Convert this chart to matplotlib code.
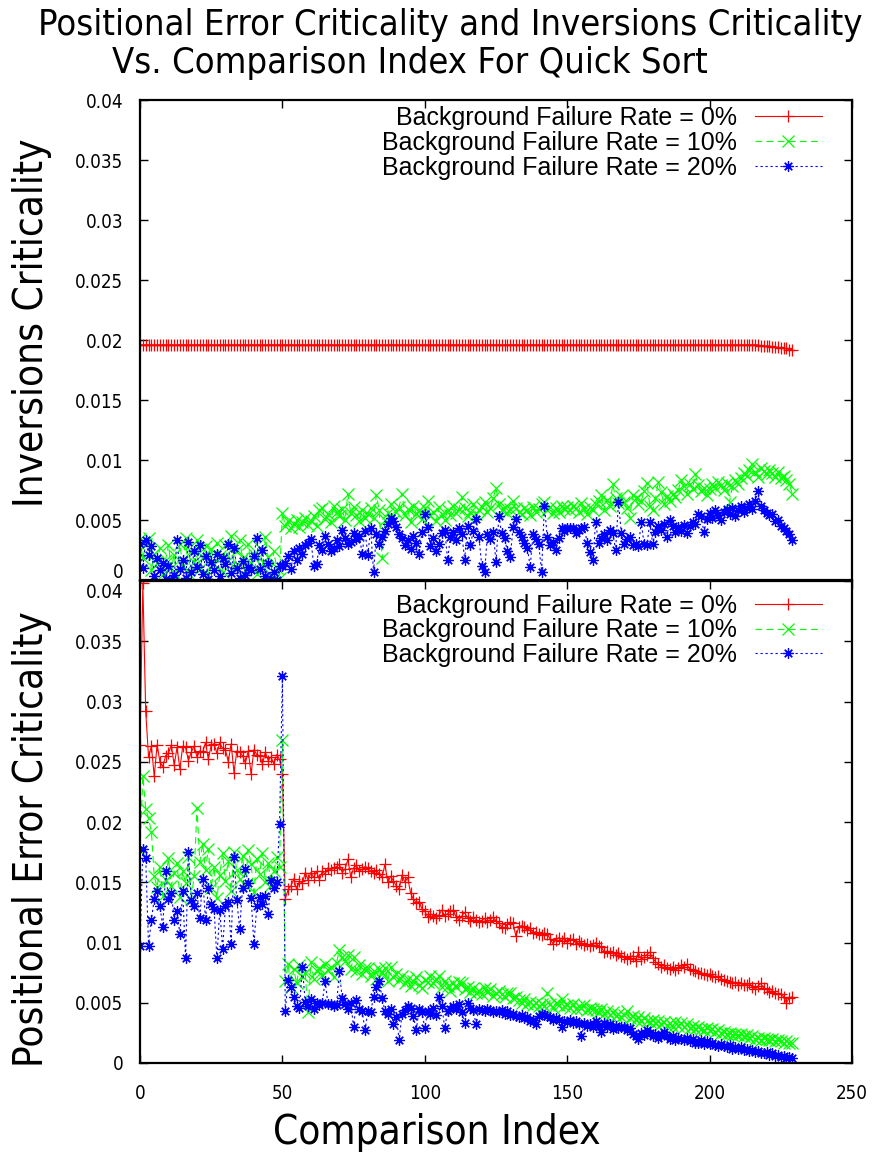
import matplotlib
matplotlib.use("Agg")
import matplotlib.pyplot as plt
import matplotlib.transforms as mtransforms
import numpy as np

comparison_index = np.arange(230)

# inversions criticality, background failure rate 0 / 10 / 20 %
inv_0 = [
    0.0196, 0.0196, 0.0196, 0.0196, 0.0196, 0.0196, 0.0196, 0.0196, 0.0196, 0.0196,
    0.0196, 0.0196, 0.0196, 0.0196, 0.0196, 0.0196, 0.0196, 0.0196, 0.0196, 0.0196,
    0.0196, 0.0196, 0.0196, 0.0196, 0.0196, 0.0196, 0.0196, 0.0196, 0.0196, 0.0196,
    0.0196, 0.0196, 0.0196, 0.0196, 0.0196, 0.0196, 0.0196, 0.0196, 0.0196, 0.0196,
    0.0196, 0.0196, 0.0196, 0.0196, 0.0196, 0.0196, 0.0196, 0.0196, 0.0196, 0.0196,
    0.0196, 0.0196, 0.0196, 0.0196, 0.0196, 0.0196, 0.0196, 0.0196, 0.0196, 0.0196,
    0.0196, 0.0196, 0.0196, 0.0196, 0.0196, 0.0196, 0.0196, 0.0196, 0.0196, 0.0196,
    0.0196, 0.0196, 0.0196, 0.0196, 0.0196, 0.0196, 0.0196, 0.0196, 0.0196, 0.0196,
    0.0196, 0.0196, 0.0196, 0.0196, 0.0196, 0.0196, 0.0196, 0.0196, 0.0196, 0.0196,
    0.0196, 0.0196, 0.0196, 0.0196, 0.0196, 0.0196, 0.0196, 0.0196, 0.0196, 0.0196,
    0.0196, 0.0196, 0.0196, 0.0196, 0.0196, 0.0196, 0.0196, 0.0196, 0.0196, 0.0196,
    0.0196, 0.0196, 0.0196, 0.0196, 0.0196, 0.0196, 0.0196, 0.0196, 0.0196, 0.0196,
    0.0196, 0.0196, 0.0196, 0.0196, 0.0196, 0.0196, 0.0196, 0.0196, 0.0196, 0.0196,
    0.0196, 0.0196, 0.0196, 0.0196, 0.0196, 0.0196, 0.0196, 0.0196, 0.0196, 0.0196,
    0.0196, 0.0196, 0.0196, 0.0196, 0.0196, 0.0196, 0.0196, 0.0196, 0.0196, 0.0196,
    0.0196, 0.0196, 0.0196, 0.0196, 0.0196, 0.0196, 0.0196, 0.0196, 0.0196, 0.0196,
    0.0196, 0.0196, 0.0196, 0.0196, 0.0196, 0.0196, 0.0196, 0.0196, 0.0196, 0.0196,
    0.0196, 0.0196, 0.0196, 0.0196, 0.0196, 0.0196, 0.0196, 0.0196, 0.0196, 0.0196,
    0.0196, 0.0196, 0.0196, 0.0196, 0.0196, 0.0196, 0.0196, 0.0196, 0.0196, 0.0196,
    0.0196, 0.0196, 0.0196, 0.0196, 0.0196, 0.0196, 0.0196, 0.0196, 0.0196, 0.0196,
    0.0196, 0.0196, 0.0196, 0.0196, 0.0196, 0.0196, 0.0196, 0.0196, 0.0196, 0.0196,
    0.0196, 0.0196, 0.0196, 0.0196, 0.0196, 0.0196, 0.0196, 0.0196, 0.0195, 0.0195,
    0.0195, 0.0195, 0.0194, 0.0194, 0.0194, 0.0193, 0.0193, 0.0193, 0.0192, 0.0192,
]
inv_10 = [
    0.0034, 0.0018, 0.0030, 0.0035, 0.0008, 0.0022, 0.0014, 0.0027, 0.0005, 0.0017,
    0.0029, 0.0010, 0.0021, 0.0003, 0.0030, 0.0012, 0.0035, 0.0006, 0.0024, 0.0015,
    0.0033, 0.0009, 0.0019, 0.0028, 0.0004, 0.0026, 0.0013, 0.0031, 0.0020, 0.0007,
    0.0029, 0.0016, 0.0037, 0.0011, 0.0025, 0.0033, 0.0018, 0.0008, 0.0030, 0.0014,
    0.0022, 0.0005, 0.0027, 0.0012, 0.0036, 0.0019, 0.0003, 0.0024, 0.0010, 0.0002,
    0.0056, 0.0045, 0.0049, 0.0043, 0.0047, 0.0050, 0.0044, 0.0048, 0.0052, 0.0046,
    0.0049, 0.0053, 0.0045, 0.0058, 0.0060, 0.0051, 0.0055, 0.0048, 0.0062, 0.0057,
    0.0053, 0.0059, 0.0050, 0.0072, 0.0056, 0.0061, 0.0054, 0.0049, 0.0058, 0.0052,
    0.0055, 0.0060, 0.0052, 0.0071, 0.0058, 0.0018, 0.0050, 0.0056, 0.0063, 0.0049,
    0.0057, 0.0061, 0.0072, 0.0054, 0.0059, 0.0048, 0.0062, 0.0055, 0.0058, 0.0051,
    0.0060, 0.0066, 0.0053, 0.0057, 0.0049, 0.0061, 0.0055, 0.0050, 0.0058, 0.0054,
    0.0062, 0.0056, 0.0059, 0.0069, 0.0060, 0.0053, 0.0057, 0.0063, 0.0055, 0.0058,
    0.0061, 0.0065, 0.0057, 0.0060, 0.0068, 0.0077, 0.0063, 0.0058, 0.0061, 0.0056,
    0.0059, 0.0066, 0.0060, 0.0057, 0.0055, 0.0060, 0.0058, 0.0054, 0.0061, 0.0057,
    0.0059, 0.0063, 0.0065, 0.0058, 0.0061, 0.0056, 0.0060, 0.0057, 0.0062, 0.0059,
    0.0061, 0.0058, 0.0062, 0.0060, 0.0057, 0.0064, 0.0059, 0.0055, 0.0061, 0.0058,
    0.0063, 0.0066, 0.0071, 0.0058, 0.0067, 0.0062, 0.0080, 0.0068, 0.0064, 0.0070,
    0.0065, 0.0060, 0.0052, 0.0071, 0.0068, 0.0063, 0.0066, 0.0074, 0.0081, 0.0062,
    0.0058, 0.0068, 0.0082, 0.0073, 0.0063, 0.0070, 0.0066, 0.0072, 0.0069, 0.0075,
    0.0083, 0.0078, 0.0072, 0.0080, 0.0076, 0.0088, 0.0079, 0.0074, 0.0077, 0.0071,
    0.0076, 0.0080, 0.0077, 0.0082, 0.0079, 0.0075, 0.0081, 0.0065, 0.0078, 0.0083,
    0.0080, 0.0085, 0.0089, 0.0087, 0.0092, 0.0097, 0.0090, 0.0086, 0.0093, 0.0091,
    0.0088, 0.0092, 0.0089, 0.0086, 0.0090, 0.0085, 0.0087, 0.0083, 0.0080, 0.0072,
]
inv_20 = [
    0.0030, 0.0010, 0.0033, 0.0021, 0.0028, 0.0003, 0.0018, 0.0008, 0.0014, 0.0001,
    0.0012, 0.0000, 0.0004, 0.0033, 0.0009, 0.0017, 0.0002, 0.0032, 0.0007, 0.0024,
    0.0011, 0.0029, 0.0005, 0.0020, 0.0001, 0.0015, 0.0008, 0.0022, 0.0003, 0.0018,
    0.0013, 0.0030, 0.0006, 0.0027, 0.0010, 0.0002, 0.0016, 0.0004, 0.0011, 0.0008,
    0.0020, 0.0035, 0.0009, 0.0025, 0.0003, 0.0014, 0.0001, 0.0007, 0.0000, 0.0012,
    0.0012, 0.0014, 0.0020, 0.0009, 0.0024, 0.0017, 0.0027, 0.0022, 0.0029, 0.0031,
    0.0034, 0.0012, 0.0013, 0.0029, 0.0025, 0.0037, 0.0030, 0.0024, 0.0027, 0.0033,
    0.0028, 0.0042, 0.0035, 0.0030, 0.0032, 0.0039, 0.0034, 0.0037, 0.0022, 0.0041,
    0.0021, 0.0043, 0.0007, 0.0038, 0.0030, 0.0036, 0.0041, 0.0047, 0.0052, 0.0049,
    0.0044, 0.0038, 0.0035, 0.0029, 0.0033, 0.0026, 0.0037, 0.0031, 0.0022, 0.0040,
    0.0055, 0.0044, 0.0028, 0.0035, 0.0024, 0.0030, 0.0039, 0.0042, 0.0017, 0.0036,
    0.0040, 0.0033, 0.0043, 0.0038, 0.0017, 0.0045, 0.0029, 0.0041, 0.0051, 0.0036,
    0.0012, 0.0007, 0.0038, 0.0034, 0.0040, 0.0015, 0.0053, 0.0039, 0.0035, 0.0024,
    0.0019, 0.0044, 0.0051, 0.0040, 0.0036, 0.0031, 0.0027, 0.0011, 0.0038, 0.0034,
    0.0030, 0.0007, 0.0062, 0.0036, 0.0029, 0.0032, 0.0025, 0.0035, 0.0043, 0.0041,
    0.0043, 0.0043, 0.0043, 0.0039, 0.0042, 0.0043, 0.0044, 0.0031, 0.0023, 0.0017,
    0.0048, 0.0031, 0.0035, 0.0038, 0.0033, 0.0042, 0.0039, 0.0025, 0.0065, 0.0039,
    0.0030, 0.0034, 0.0036, 0.0029, 0.0030, 0.0028, 0.0048, 0.0030, 0.0029, 0.0048,
    0.0030, 0.0040, 0.0045, 0.0042, 0.0047, 0.0036, 0.0050, 0.0045, 0.0040, 0.0044,
    0.0041, 0.0046, 0.0039, 0.0045, 0.0048, 0.0047, 0.0055, 0.0053, 0.0040, 0.0051,
    0.0056, 0.0052, 0.0058, 0.0054, 0.0050, 0.0057, 0.0059, 0.0055, 0.0060, 0.0053,
    0.0058, 0.0062, 0.0057, 0.0060, 0.0063, 0.0059, 0.0066, 0.0074, 0.0062, 0.0058,
    0.0056, 0.0054, 0.0055, 0.0049, 0.0050, 0.0045, 0.0043, 0.0041, 0.0038, 0.0033,
]

# positional error criticality, background failure rate 0 / 10 / 20 %
pos_0 = [
    0.0264, 0.0398, 0.0292, 0.0254, 0.0263, 0.0238, 0.0264, 0.0250, 0.0246, 0.0255,
    0.0257, 0.0264, 0.0247, 0.0262, 0.0244, 0.0263, 0.0262, 0.0251, 0.0258, 0.0263,
    0.0254, 0.0259, 0.0258, 0.0266, 0.0252, 0.0264, 0.0265, 0.0257, 0.0266, 0.0261,
    0.0260, 0.0250, 0.0265, 0.0241, 0.0259, 0.0258, 0.0255, 0.0249, 0.0259, 0.0240,
    0.0260, 0.0256, 0.0255, 0.0248, 0.0258, 0.0251, 0.0254, 0.0248, 0.0256, 0.0252,
    0.0240, 0.0136, 0.0144, 0.0147, 0.0153, 0.0144, 0.0151, 0.0149, 0.0158, 0.0152,
    0.0158, 0.0154, 0.0159, 0.0152, 0.0159, 0.0157, 0.0162, 0.0160, 0.0162, 0.0163,
    0.0165, 0.0158, 0.0161, 0.0169, 0.0154, 0.0162, 0.0164, 0.0159, 0.0161, 0.0163,
    0.0162, 0.0159, 0.0158, 0.0160, 0.0157, 0.0154, 0.0165, 0.0150, 0.0155, 0.0151,
    0.0147, 0.0144, 0.0156, 0.0150, 0.0154, 0.0141, 0.0136, 0.0133, 0.0134, 0.0128,
    0.0126, 0.0121, 0.0124, 0.0122, 0.0120, 0.0123, 0.0127, 0.0122, 0.0124, 0.0126,
    0.0127, 0.0121, 0.0119, 0.0122, 0.0125, 0.0120, 0.0118, 0.0121, 0.0119, 0.0117,
    0.0118, 0.0120, 0.0117, 0.0119, 0.0121, 0.0118, 0.0116, 0.0113, 0.0112, 0.0115,
    0.0117, 0.0116, 0.0105, 0.0113, 0.0114, 0.0113, 0.0110, 0.0112, 0.0108, 0.0109,
    0.0107, 0.0106, 0.0108, 0.0107, 0.0103, 0.0099, 0.0102, 0.0104, 0.0101, 0.0104,
    0.0100, 0.0102, 0.0103, 0.0099, 0.0101, 0.0100, 0.0098, 0.0099, 0.0097, 0.0098,
    0.0100, 0.0097, 0.0096, 0.0092, 0.0093, 0.0091, 0.0092, 0.0090, 0.0091, 0.0089,
    0.0088, 0.0086, 0.0087, 0.0089, 0.0085, 0.0092, 0.0086, 0.0088, 0.0090, 0.0092,
    0.0087, 0.0084, 0.0082, 0.0080, 0.0081, 0.0079, 0.0078, 0.0080, 0.0077, 0.0079,
    0.0081, 0.0080, 0.0082, 0.0078, 0.0077, 0.0076, 0.0075, 0.0075, 0.0074, 0.0073,
    0.0074, 0.0072, 0.0071, 0.0072, 0.0070, 0.0069, 0.0068, 0.0067, 0.0066, 0.0067,
    0.0065, 0.0066, 0.0065, 0.0065, 0.0066, 0.0063, 0.0061, 0.0064, 0.0066, 0.0062,
    0.0061, 0.0059, 0.0060, 0.0058, 0.0057, 0.0057, 0.0055, 0.0050, 0.0054, 0.0055,
]
pos_10 = [
    0.0176, 0.0238, 0.0211, 0.0203, 0.0192, 0.0155, 0.0146, 0.0163, 0.0139, 0.0152,
    0.0170, 0.0147, 0.0158, 0.0166, 0.0138, 0.0159, 0.0149, 0.0171, 0.0136, 0.0155,
    0.0212, 0.0167, 0.0182, 0.0160, 0.0178, 0.0145, 0.0163, 0.0137, 0.0156, 0.0174,
    0.0151, 0.0168, 0.0143, 0.0175, 0.0160, 0.0153, 0.0172, 0.0148, 0.0177, 0.0165,
    0.0142, 0.0169, 0.0157, 0.0174, 0.0150, 0.0166, 0.0148, 0.0159, 0.0171, 0.0163,
    0.0268, 0.0068, 0.0082, 0.0063, 0.0078, 0.0066, 0.0081, 0.0072, 0.0075, 0.0042,
    0.0084, 0.0070, 0.0076, 0.0079, 0.0073, 0.0082, 0.0077, 0.0080, 0.0071, 0.0083,
    0.0094, 0.0088, 0.0085, 0.0090, 0.0078, 0.0088, 0.0076, 0.0081, 0.0074, 0.0079,
    0.0079, 0.0072, 0.0076, 0.0070, 0.0078, 0.0075, 0.0079, 0.0068, 0.0080, 0.0071,
    0.0074, 0.0069, 0.0072, 0.0066, 0.0070, 0.0064, 0.0068, 0.0071, 0.0065, 0.0062,
    0.0069, 0.0067, 0.0072, 0.0066, 0.0070, 0.0072, 0.0063, 0.0068, 0.0064, 0.0060,
    0.0066, 0.0063, 0.0067, 0.0066, 0.0061, 0.0063, 0.0059, 0.0062, 0.0058, 0.0060,
    0.0057, 0.0062, 0.0059, 0.0061, 0.0056, 0.0058, 0.0060, 0.0057, 0.0055, 0.0058,
    0.0058, 0.0054, 0.0055, 0.0052, 0.0050, 0.0053, 0.0049, 0.0051, 0.0048, 0.0050,
    0.0047, 0.0049, 0.0047, 0.0058, 0.0049, 0.0046, 0.0050, 0.0048, 0.0053, 0.0047,
    0.0048, 0.0046, 0.0049, 0.0045, 0.0047, 0.0046, 0.0048, 0.0044, 0.0046, 0.0045,
    0.0044, 0.0042, 0.0045, 0.0041, 0.0043, 0.0040, 0.0042, 0.0039, 0.0041, 0.0038,
    0.0040, 0.0043, 0.0037, 0.0039, 0.0036, 0.0038, 0.0035, 0.0037, 0.0035, 0.0034,
    0.0036, 0.0033, 0.0035, 0.0032, 0.0034, 0.0031, 0.0033, 0.0030, 0.0034, 0.0031,
    0.0033, 0.0030, 0.0032, 0.0029, 0.0031, 0.0028, 0.0030, 0.0028, 0.0027, 0.0029,
    0.0027, 0.0028, 0.0026, 0.0027, 0.0025, 0.0026, 0.0024, 0.0025, 0.0023, 0.0024,
    0.0023, 0.0024, 0.0022, 0.0023, 0.0021, 0.0022, 0.0020, 0.0021, 0.0019, 0.0021,
    0.0020, 0.0019, 0.0020, 0.0018, 0.0019, 0.0018, 0.0017, 0.0018, 0.0017, 0.0017,
]
pos_20 = [
    0.0097, 0.0178, 0.0170, 0.0097, 0.0119, 0.0136, 0.0143, 0.0130, 0.0113, 0.0159,
    0.0136, 0.0141, 0.0119, 0.0126, 0.0107, 0.0143, 0.0087, 0.0175, 0.0135, 0.0130,
    0.0141, 0.0120, 0.0153, 0.0119, 0.0145, 0.0132, 0.0128, 0.0087, 0.0127, 0.0095,
    0.0130, 0.0134, 0.0099, 0.0171, 0.0135, 0.0111, 0.0145, 0.0161, 0.0149, 0.0137,
    0.0099, 0.0130, 0.0138, 0.0132, 0.0139, 0.0124, 0.0152, 0.0145, 0.0150, 0.0198,
    0.0321, 0.0043, 0.0069, 0.0063, 0.0055, 0.0047, 0.0046, 0.0080, 0.0051, 0.0047,
    0.0053, 0.0045, 0.0050, 0.0048, 0.0050, 0.0068, 0.0049, 0.0049, 0.0047, 0.0048,
    0.0076, 0.0054, 0.0049, 0.0045, 0.0050, 0.0030, 0.0052, 0.0045, 0.0043, 0.0027,
    0.0043, 0.0042, 0.0055, 0.0063, 0.0068, 0.0054, 0.0043, 0.0041, 0.0045, 0.0032,
    0.0038, 0.0019, 0.0041, 0.0044, 0.0047, 0.0046, 0.0039, 0.0027, 0.0045, 0.0042,
    0.0029, 0.0043, 0.0041, 0.0046, 0.0040, 0.0055, 0.0047, 0.0029, 0.0043, 0.0045,
    0.0047, 0.0045, 0.0049, 0.0042, 0.0033, 0.0050, 0.0046, 0.0044, 0.0032, 0.0045,
    0.0044, 0.0043, 0.0045, 0.0044, 0.0042, 0.0043, 0.0042, 0.0044, 0.0041, 0.0043,
    0.0040, 0.0041, 0.0039, 0.0038, 0.0040, 0.0037, 0.0038, 0.0035, 0.0036, 0.0032,
    0.0039, 0.0041, 0.0040, 0.0039, 0.0038, 0.0036, 0.0037, 0.0036, 0.0030, 0.0035,
    0.0034, 0.0036, 0.0033, 0.0035, 0.0032, 0.0022, 0.0033, 0.0031, 0.0032, 0.0030,
    0.0035, 0.0031, 0.0026, 0.0033, 0.0030, 0.0032, 0.0028, 0.0031, 0.0029, 0.0030,
    0.0030, 0.0027, 0.0029, 0.0024, 0.0022, 0.0020, 0.0025, 0.0023, 0.0027, 0.0025,
    0.0022, 0.0024, 0.0021, 0.0023, 0.0026, 0.0022, 0.0020, 0.0022, 0.0019, 0.0021,
    0.0020, 0.0019, 0.0021, 0.0018, 0.0020, 0.0017, 0.0017, 0.0019, 0.0016, 0.0018,
    0.0016, 0.0017, 0.0015, 0.0014, 0.0016, 0.0014, 0.0013, 0.0015, 0.0012, 0.0013,
    0.0012, 0.0013, 0.0011, 0.0012, 0.0010, 0.0011, 0.0009, 0.0010, 0.0008, 0.0008,
    0.0009, 0.0007, 0.0008, 0.0006, 0.0007, 0.0005, 0.0006, 0.0004, 0.0005, 0.0004,
]

series_labels = ["Background Failure Rate = 0%",
                 "Background Failure Rate = 10%",
                 "Background Failure Rate = 20%"]
y_ticks = [0, 0.005, 0.01, 0.015, 0.02, 0.025, 0.03, 0.035, 0.04]
y_tick_labels = ["0", "0.005", "0.01", "0.015", "0.02", "0.025", "0.03", "0.035", "0.04"]
x_ticks = [0, 50, 100, 150, 200, 250]

plt.rcParams["font.family"] = ["DejaVu Sans"]
plt.rcParams["font.stretch"] = "condensed"

# gnuplot-like line types: solid +, dashed x, dotted asterisk
colors = ["#ff0000", "#00ff00", "#0000ff"]
linestyles = ["-", (0, (6, 4)), (0, (2, 2.5))]
markers = ["+", "x", (8, 2, 0)]
msizes = [9, 8, 7.5]
tick_font = {"family": "DejaVu Sans", "stretch": "condensed", "size": 13.5}

fig = plt.figure(figsize=(8.82, 11.52), dpi=100)
W, H = 882.0, 1152.0
ax_top = fig.add_axes([140 / W, 1 - 580 / H, 712 / W, 480 / H])
ax_bot = fig.add_axes([140 / W, 1 - 1063 / H, 712 / W, 482 / H])


def draw_panel(ax, ys, legend_top):
    for y, lab, c, ls, mk, ms in zip(ys, series_labels, colors, linestyles, markers, msizes):
        ax.plot(comparison_index, y, color=c, linestyle=ls, linewidth=0.8,
                marker=mk, markersize=ms, markeredgewidth=0.9, label=lab)
    ax.set_xlim(0, 250)
    ax.set_ylim(0, 0.04)
    ax.set_xticks(x_ticks, [str(v) for v in x_ticks], fontdict=tick_font)
    ax.set_yticks(y_ticks, y_tick_labels, fontdict=tick_font)
    ax.tick_params(direction="in", length=6, width=1, left=True, right=True)
    ax.tick_params(axis="y", pad=12)
    ax.tick_params(axis="x", pad=15)
    for sp in ax.spines.values():
        sp.set_linewidth(1.6)
    ax.legend(loc="upper right", bbox_to_anchor=(0.958, legend_top), frameon=False,
              markerfirst=False, numpoints=1, handlelength=2.7, handletextpad=0.7,
              labelspacing=0.03, borderpad=0, borderaxespad=0,
              prop={"family": "Liberation Sans", "stretch": "normal", "size": 18})


draw_panel(ax_top, [inv_0, inv_10, inv_20], 0.987)
draw_panel(ax_bot, [pos_0, pos_10, pos_20], 0.974)

ax_top.tick_params(axis="x", top=True, bottom=False, labelbottom=False)
ax_bot.tick_params(axis="x", top=True, bottom=True)

# keep the "0" and "0.04" labels at the shared border apart
dpt = fig.dpi_scale_trans
lab0 = ax_top.yaxis.get_major_ticks()[0].label1
lab0.set_transform(lab0.get_transform() + mtransforms.ScaledTranslation(0, 6.5 / 72, dpt))
lab4 = ax_bot.yaxis.get_major_ticks()[-1].label1
lab4.set_transform(lab4.get_transform() + mtransforms.ScaledTranslation(0, -7.2 / 72, dpt))

ax_top.set_ylabel("Inversions Criticality", fontsize=29, va="center")
ax_top.yaxis.set_label_coords(-0.152, 0.536)
ax_bot.set_ylabel("Positional Error Criticality", fontsize=29, va="center")
ax_bot.yaxis.set_label_coords(-0.152, 0.465)
ax_bot.set_xlabel("Comparison Index", fontsize=29, va="center")
ax_bot.xaxis.set_label_coords(0.417, -0.145)

fig.text(450 / W, 1 - 25 / H, "Positional Error Criticality and Inversions Criticality",
         fontsize=26, ha="center", va="center")
fig.text(410 / W, 1 - 63 / H, "Vs. Comparison Index For Quick Sort",
         fontsize=26, ha="center", va="center")

fig.savefig("out.png", dpi=100)
